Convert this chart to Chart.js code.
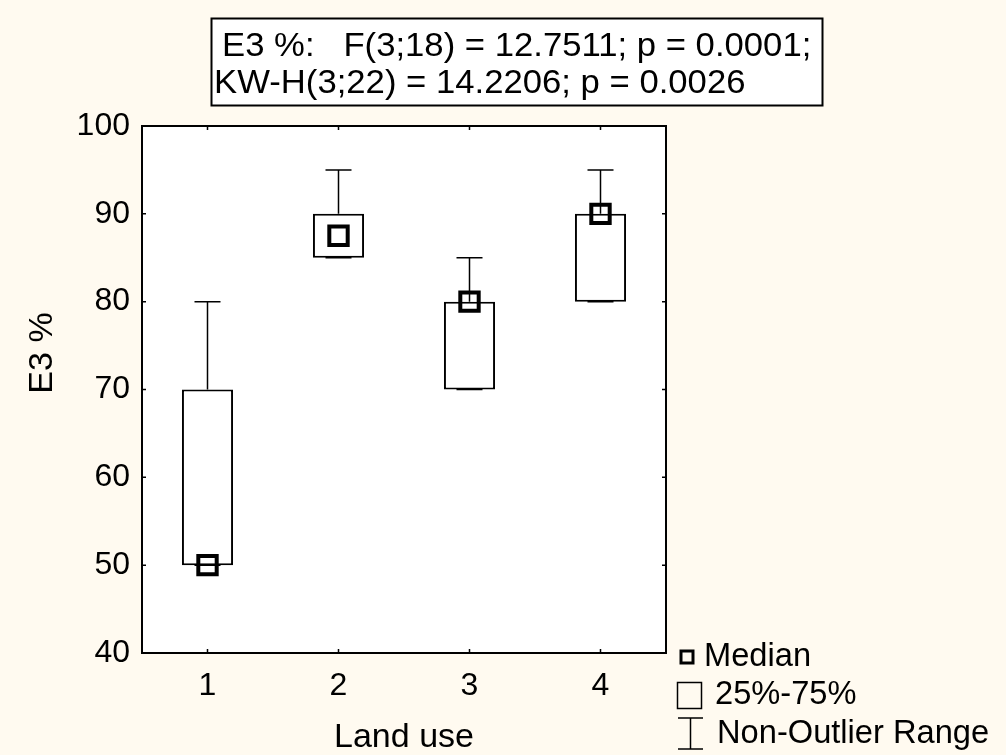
<!DOCTYPE html>
<html>
<head>
<meta charset="utf-8">
<script src="https://cdn.jsdelivr.net/npm/chart.js@4"></script>
<style>
  body { margin: 0; background: #fffaf0; }
  #wrap { width: 1006px; height: 755px; }
</style>
</head>
<body>
<div id="wrap"><canvas id="boxChart" width="1006" height="755"></canvas></div>
<script>
// Box plot values
const categories = ['1', '2', '3', '4'];
const q1 = [50, 85, 70, 80];
const q3 = [70, 90, 80, 90];
const medians = [50, 87.5, 80, 90];
const mins = [50, 85, 70, 80];
const maxs = [80, 95, 85, 95];
const yTicks = [40, 50, 60, 70, 80, 90, 100];

const titleLines = ['E3 %:   F(3;18) = 12.7511; p = 0.0001;', 'KW-H(3;22) = 14.2206; p = 0.0026'];
const xTitle = 'Land use';
const yTitle = 'E3 %';
const legendLabels = ['Median', '25%-75%', 'Non-Outlier Range'];

const FONT = '"Liberation Sans", Arial, sans-serif';

// draw text squeezed/stretched horizontally
function stretchText(ctx, text, x, y, sx) {
    ctx.save();
    ctx.translate(x, y);
    ctx.scale(sx, 1);
    ctx.fillText(text, 0, 0);
    ctx.restore();
}

// whiskers, frame, inward ticks, title box, axis titles and legend
const decorations = {
    id: 'decorations',
    beforeDatasetsDraw(chart) {
        const { ctx, scales: { x, y } } = chart;
        ctx.save();
        ctx.strokeStyle = '#000';
        ctx.lineWidth = 1.5;
        categories.forEach((c, i) => {
            const px = x.getPixelForValue(i);
            ctx.beginPath();
            ctx.moveTo(px, y.getPixelForValue(q3[i]));
            ctx.lineTo(px, y.getPixelForValue(maxs[i]));
            ctx.moveTo(px - 13, y.getPixelForValue(maxs[i]));
            ctx.lineTo(px + 13, y.getPixelForValue(maxs[i]));
            ctx.moveTo(px, y.getPixelForValue(q1[i]));
            ctx.lineTo(px, y.getPixelForValue(mins[i]));
            ctx.moveTo(px - 13, y.getPixelForValue(mins[i]));
            ctx.lineTo(px + 13, y.getPixelForValue(mins[i]));
            ctx.stroke();
        });
        ctx.restore();
    },
    afterDraw(chart) {
        const { ctx, chartArea: a, scales: { x, y } } = chart;
        ctx.save();
        ctx.strokeStyle = '#000';
        ctx.fillStyle = '#000';

        // frame
        ctx.lineWidth = 2;
        ctx.strokeRect(a.left, a.top, a.right - a.left, a.bottom - a.top);

        // inward ticks
        ctx.lineWidth = 1.5;
        ctx.beginPath();
        yTicks.forEach(v => {
            const py = y.getPixelForValue(v);
            ctx.moveTo(a.left, py); ctx.lineTo(a.left + 4, py);
            ctx.moveTo(a.right, py); ctx.lineTo(a.right - 4, py);
        });
        categories.forEach((c, i) => {
            const px = x.getPixelForValue(i);
            ctx.moveTo(px, a.bottom); ctx.lineTo(px, a.bottom - 4);
            ctx.moveTo(px, a.top); ctx.lineTo(px, a.top + 4);
        });
        ctx.stroke();

        // title box
        ctx.fillStyle = '#fff';
        ctx.fillRect(211.5, 18.5, 611, 87);
        ctx.lineWidth = 2;
        ctx.strokeRect(211.5, 18.5, 611, 87);
        ctx.fillStyle = '#000';
        ctx.font = '34px ' + FONT;
        ctx.textBaseline = 'alphabetic';
        ctx.textAlign = 'left';
        stretchText(ctx, titleLines[0], 222, 56, 1.02);
        stretchText(ctx, titleLines[1], 214, 93, 1.02);

        // axis titles
        ctx.font = '34px ' + FONT;
        ctx.textAlign = 'center';
        ctx.fillText(xTitle, (a.left + a.right) / 2, 747);
        ctx.save();
        ctx.translate(52, 353);
        ctx.rotate(-Math.PI / 2);
        ctx.fillText(yTitle, 0, 0);
        ctx.restore();

        // legend
        ctx.textAlign = 'left';
        ctx.font = '34px ' + FONT;
        ctx.lineWidth = 3;
        ctx.strokeRect(681, 651, 12, 12);
        stretchText(ctx, legendLabels[0], 704, 666, 0.96);
        ctx.lineWidth = 1.5;
        ctx.strokeRect(677.5, 682.5, 24, 26);
        stretchText(ctx, legendLabels[1], 715, 704, 0.96);
        ctx.beginPath();
        ctx.moveTo(678, 718); ctx.lineTo(703, 718);
        ctx.moveTo(690.5, 718); ctx.lineTo(690.5, 749);
        ctx.moveTo(678, 749); ctx.lineTo(703, 749);
        ctx.stroke();
        stretchText(ctx, legendLabels[2], 717, 743, 0.96);
        ctx.restore();
    }
};

const bg = {
    id: 'bg',
    beforeDraw(chart) {
        const { ctx, chartArea: a } = chart;
        ctx.save();
        ctx.fillStyle = '#fffaf0';
        ctx.fillRect(0, 0, chart.width, chart.height);
        ctx.fillStyle = '#ffffff';
        ctx.fillRect(a.left, a.top, a.right - a.left, a.bottom - a.top);
        ctx.restore();
    }
};

new Chart(document.getElementById('boxChart'), {
    data: {
        labels: categories,
        datasets: [
            {
                type: 'line',
                label: 'Median',
                data: medians,
                showLine: false,
                pointStyle: 'rect',
                pointRadius: 13,
                pointHoverRadius: 13,
                pointBorderWidth: 4,
                borderColor: '#000',
                backgroundColor: 'rgba(0,0,0,0)'
            },
            {
                type: 'bar',
                label: '25%-75%',
                data: q1.map((v, i) => [v, q3[i]]),
                backgroundColor: '#ffffff',
                borderColor: '#000',
                borderWidth: 2,
                borderSkipped: false,
                barPercentage: 0.39,
                categoryPercentage: 1
            }
        ]
    },
    options: {
        responsive: false,
        animation: false,
        layout: { padding: { top: 126, right: 340, left: 0, bottom: 0 } },
        plugins: {
            legend: { display: false },
            tooltip: { enabled: false }
        },
        scales: {
            x: {
                grid: { display: false, drawTicks: false },
                border: { display: false },
                ticks: { color: '#000', font: { family: FONT, size: 32 }, padding: 14 },
                afterFit(scale) { scale.height = 102; }
            },
            y: {
                min: 40,
                max: 100,
                grid: { display: false, drawTicks: false },
                border: { display: false },
                ticks: { stepSize: 10, color: '#000', font: { family: FONT, size: 32 }, padding: 12 },
                afterFit(scale) { scale.width = 142; }
            }
        }
    },
    plugins: [bg, decorations]
});
</script>
</body>
</html>
